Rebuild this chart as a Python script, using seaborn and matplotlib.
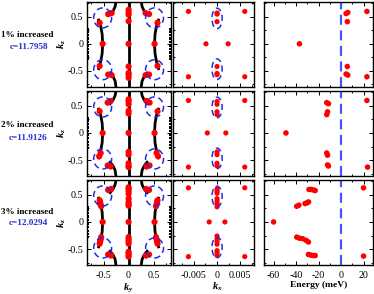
import numpy as np
import pandas as pd
import matplotlib
matplotlib.use("Agg")
import matplotlib.pyplot as plt
from matplotlib.patches import Ellipse
from matplotlib.ticker import MultipleLocator
import seaborn as sns

# ---------------- data ----------------
row_pct = ["1% increased", "2% increased", "3% increased"]
row_c = ["c=11.7958", "c=11.9126", "c=12.0294"]

# column 1: Fermi-surface cuts (ky, kz)
arc_lt_ky = [-0.25, -0.27, -0.31, -0.37]
arc_lt_kz = [0.80, 0.69, 0.61, 0.54]
arc_lm_ky = [-0.60, -0.56, -0.53, -0.52, -0.53, -0.56, -0.60]
arc_lm_kz = [0.44, 0.33, 0.18, 0.00, -0.18, -0.33, -0.46]
arc_lb_ky = [-0.37, -0.31, -0.27, -0.25]
arc_lb_kz = [-0.54, -0.61, -0.69, -0.82]
arc_rt_ky = [0.25, 0.27, 0.31, 0.37]
arc_rt_kz = [0.80, 0.69, 0.61, 0.54]
arc_rm_ky = [0.60, 0.56, 0.53, 0.52, 0.53, 0.56, 0.60]
arc_rm_kz = [0.44, 0.33, 0.18, 0.00, -0.18, -0.33, -0.46]
arc_rb_ky = [0.37, 0.31, 0.27, 0.25]
arc_rb_kz = [-0.54, -0.61, -0.69, -0.82]
arc_c_ky = [0.0, 0.0]
arc_c_kz = [-0.82, 0.80]
edge_ky = [-0.825, 0.825]
edge_kz = [0.28, 0.22, 0.16, 0.10, 0.04, -0.04, -0.10, -0.16, -0.22, -0.28]

# blue dashed circles (centres) in column 1 and column 2
circ1_ky = [-0.52, 0.52, -0.52, 0.52]
circ1_kz = [0.48, 0.48, -0.48, -0.48]
circ2_kx = [0.0, 0.0]
circ2_kz = [0.47, -0.47]

# red points, column 1 (ky, kz)
c1_ky = [
    [0, 0, 0, 0, 0, 0, 0, 0, 0,
     -0.41, -0.34, -0.58, -0.52, -0.58, -0.41, -0.34,
     0.41, 0.34, 0.58, 0.52, 0.58, 0.41, 0.34],
    [0, 0, 0, 0, 0, 0, 0, 0, 0, 0, 0,
     -0.42, -0.36, -0.58, -0.52, -0.56, -0.59, -0.42, -0.36,
     0.42, 0.36, 0.58, 0.52, 0.56, 0.59, 0.42, 0.36],
    [0, 0, 0, 0, 0, 0, 0, 0, 0, 0, 0, 0, 0, 0, 0, 0, 0,
     -0.41, -0.35, -0.58, -0.57, -0.56, -0.55, -0.52, -0.55, -0.56, -0.57, -0.58, -0.41, -0.35,
     0.41, 0.35, 0.58, 0.57, 0.56, 0.55, 0.52, 0.55, 0.56, 0.57, 0.58, 0.41, 0.35],
]
c1_kz = [
    [0.63, 0.58, 0.54, 0.42, 0.0, -0.42, -0.54, -0.58, -0.63,
     0.55, 0.57, 0.39, 0.0, -0.41, -0.57, -0.58,
     0.55, 0.57, 0.39, 0.0, -0.41, -0.57, -0.58],
    [0.62, 0.58, 0.53, 0.41, 0.36, 0.0, -0.35, -0.40, -0.56, -0.61, -0.63,
     0.56, 0.59, 0.40, 0.0, -0.37, -0.43, -0.60, -0.62,
     0.56, 0.59, 0.40, 0.0, -0.37, -0.43, -0.60, -0.62],
    [0.64, 0.61, 0.57, 0.52, 0.43, 0.37, 0.33, 0.30, 0.0,
     -0.28, -0.32, -0.36, -0.40, -0.55, -0.58, -0.61, -0.64,
     0.59, 0.61, 0.40, 0.36, 0.32, 0.29, 0.0, -0.28, -0.32, -0.36, -0.40, -0.60, -0.62,
     0.59, 0.61, 0.40, 0.36, 0.32, 0.29, 0.0, -0.28, -0.32, -0.36, -0.40, -0.60, -0.62],
]

# red points, column 2 (kx, kz)
c2_kx = [
    [0, 0, 0, 0, 0, 0, -0.0024, 0.0024, -0.0062, 0.0060, -0.0062, 0.0060],
    [0, 0, 0, 0, 0, 0, 0, 0, -0.0021, 0.0019, -0.0062, 0.0060, -0.0062, 0.0060],
    [0, 0, 0, 0, 0, 0, 0, 0, 0, 0, 0, 0, 0, 0,
     -0.0017, 0.0017, -0.0062, 0.0060, -0.0062, 0.0060],
]
c2_kz = [
    [0.57, 0.55, 0.41, -0.42, -0.55, -0.57, 0.0, 0.0, 0.60, 0.60, -0.61, -0.61],
    [0.58, 0.53, 0.39, 0.34, -0.35, -0.40, -0.56, -0.61, 0.0, 0.0, 0.60, 0.60, -0.63, -0.63],
    [0.61, 0.57, 0.53, 0.43, 0.38, 0.33, 0.28, -0.26, -0.31, -0.36, -0.41, -0.53, -0.57, -0.62,
     0.0, 0.0, 0.63, 0.63, -0.64, -0.64],
]

# red points, column 3 (Energy in meV, kz)
c3_E = [
    [4.5, 6.0, 5.6, 5.6, 4.5, 6.0, -37.0, 23.0, 23.0],
    [-12.7, -11.2, -12.0, -12.7, -12.7, -12.0, -12.0, -11.2, -49.0, 23.0, 23.6],
    [-28.5, -26.5, -24.5, -23.0, -39.4, -37.5, -32.0, -30.4, -28.9,
     -39.4, -37.0, -34.0, -31.0, -29.0, -29.0, -27.0, -25.0, -23.0, -60.0, 20.0, 20.0],
]
c3_kz = [
    [0.56, 0.58, 0.41, -0.42, -0.56, -0.58, 0.0, 0.60, -0.61],
    [0.56, 0.54, 0.39, 0.34, -0.37, -0.41, -0.59, -0.61, 0.0, 0.60, -0.63],
    [0.60, 0.60, 0.59, 0.58, 0.29, 0.31, 0.34, 0.35, 0.37,
     -0.28, -0.30, -0.31, -0.34, -0.37, -0.60, -0.61, -0.62, -0.62, 0.0, 0.63, -0.63],
]

# ---------------- style ----------------
plt.rcParams["font.family"] = ["Liberation Serif", "DejaVu Serif"]
plt.rcParams["axes.unicode_minus"] = False
plt.rcParams["mathtext.fontset"] = "custom"
plt.rcParams["mathtext.it"] = "Liberation Serif:italic:bold"
plt.rcParams["mathtext.rm"] = "Liberation Serif:bold"
plt.rcParams["mathtext.bf"] = "Liberation Serif:bold"

W, H = 374, 294
fig = plt.figure(figsize=(W / 100, H / 100), dpi=100)

col_px = [(86.7, 171.0), (172.7, 254.0), (264.0, 373.3)]
row_px = [(1.7, 87.0), (90.7, 176.3), (179.7, 265.3)]
xlims = [(-0.84, 0.85), (-0.0096, 0.0080), (-68.5, 28.7)]
ylim = (-0.80, 0.78)

RED = "#ff0000"
BLUE = "#1e2ee6"
VBLUE = "#4455ff"

def frac(x0, x1, y0, y1):
    return [x0 / W, 1 - y1 / H, (x1 - x0) / W, (y1 - y0) / H]

curves = pd.DataFrame({
    "ky": arc_lt_ky + arc_lm_ky + arc_lb_ky + arc_rt_ky + arc_rm_ky + arc_rb_ky + arc_c_ky,
    "kz": arc_lt_kz + arc_lm_kz + arc_lb_kz + arc_rt_kz + arc_rm_kz + arc_rb_kz + arc_c_kz,
    "seg": (["lt"] * len(arc_lt_ky) + ["lm"] * len(arc_lm_ky) + ["lb"] * len(arc_lb_ky)
            + ["rt"] * len(arc_rt_ky) + ["rm"] * len(arc_rm_ky) + ["rb"] * len(arc_rb_ky)
            + ["c"] * len(arc_c_ky)),
})
edges = pd.DataFrame({
    "ky": [edge_ky[0]] * len(edge_kz) + [edge_ky[1]] * len(edge_kz),
    "kz": edge_kz + edge_kz,
})

for r in range(3):
    axes = []
    for c in range(3):
        ax = fig.add_axes(frac(col_px[c][0], col_px[c][1], row_px[r][0], row_px[r][1]))
        axes.append(ax)
        ax.set_xlim(*xlims[c])
        ax.set_ylim(*ylim)

    # column 1
    ax = axes[0]
    sns.lineplot(data=curves, x="ky", y="kz", units="seg", estimator=None, sort=False,
                 color="black", lw=2.0, ax=ax, legend=False)
    sns.scatterplot(data=edges, x="ky", y="kz", marker="s", s=2.5, color="black",
                    edgecolor="none", ax=ax, legend=False)
    d1 = pd.DataFrame({"ky": c1_ky[r], "kz": c1_kz[r]})
    sns.scatterplot(data=d1, x="ky", y="kz", color=RED, s=20, edgecolor="none",
                    ax=ax, legend=False, zorder=3)
    for cx, cy in zip(circ1_ky, circ1_kz):
        ax.add_patch(Ellipse((cx, cy), 0.36, 0.37, fill=False, ec=BLUE, lw=1.1,
                             ls=(0, (4, 2.5)), zorder=4))
    ax.xaxis.set_major_locator(MultipleLocator(0.5))
    ax.xaxis.set_minor_locator(MultipleLocator(0.25))

    # column 2
    ax = axes[1]
    d2 = pd.DataFrame({"kx": c2_kx[r], "kz": c2_kz[r]})
    sns.scatterplot(data=d2, x="kx", y="kz", color=RED, s=14, edgecolor="none",
                    ax=ax, legend=False, zorder=3)
    for cx, cy in zip(circ2_kx, circ2_kz):
        ax.add_patch(Ellipse((cx, cy), 0.0022, 0.38, fill=False, ec=BLUE, lw=1.1,
                             ls=(0, (4, 2.5)), zorder=4))
    ax.xaxis.set_major_locator(MultipleLocator(0.005))
    ax.xaxis.set_minor_locator(MultipleLocator(0.0025))

    # column 3
    ax = axes[2]
    d3 = pd.DataFrame({"E": c3_E[r], "kz": c3_kz[r]})
    ax.axvline(0, color=VBLUE, lw=1.6, ls=(0, (4.5, 2.5)), zorder=2)
    sns.scatterplot(data=d3, x="E", y="kz", color=RED, s=16, edgecolor="none",
                    ax=ax, legend=False, zorder=3)
    ax.xaxis.set_major_locator(MultipleLocator(20))
    ax.xaxis.set_minor_locator(MultipleLocator(10))

    for c, ax in enumerate(axes):
        ax.set_xlabel("")
        ax.set_ylabel("")
        ax.yaxis.set_major_locator(MultipleLocator(0.5))
        ax.yaxis.set_minor_locator(MultipleLocator(0.25))
        ax.tick_params(which="both", direction="in", top=True, right=True,
                       width=0.7, labelsize=7.2, pad=2.5)
        ax.tick_params(which="major", length=2.8)
        ax.tick_params(which="minor", length=1.6)
        for sp in ax.spines.values():
            sp.set_linewidth(1.0)
        if c > 0:
            ax.set_yticklabels([])
        else:
            ax.set_yticks([-0.5, 0, 0.5])
            ax.set_yticklabels(["-0.5", "0", "0.5"])
        if r < 2:
            ax.set_xticklabels([])
        else:
            ax.tick_params(axis="x", pad=4)
    if r == 2:
        axes[0].set_xticks([-0.5, 0, 0.5])
        axes[0].set_xticklabels(["-0.5", "0", "0.5"])
        axes[1].set_xticks([-0.005, 0, 0.005])
        axes[1].set_xticklabels(["-0.005", "0", "0.005"])

# row annotations
pct_y = [35.0, 125.0, 211.7]
c_y = [46.7, 138.3, 222.7]
kz_y = [44.0, 133.0, 223.0]
for r in range(3):
    fig.text(27.0 / W, 1 - pct_y[r] / H, row_pct[r], ha="center", va="center",
             fontsize=6.6, fontweight="bold", color="black")
    fig.text(28.5 / W, 1 - c_y[r] / H, row_c[r], ha="center", va="center",
             fontsize=6.6, fontweight="bold", color="#1f2fd0")
    fig.text(62.0 / W, 1 - kz_y[r] / H, r"$k_z$", ha="center", va="center",
             rotation=90, fontsize=7.5)

fig.text(128.0 / W, 1 - 288.0 / H, r"$k_y$", ha="center", va="center", fontsize=7.5)
fig.text(217.0 / W, 1 - 287.0 / H, r"$k_x$", ha="center", va="center", fontsize=7.5)
fig.text(319.0 / W, 1 - 285.0 / H, "Energy (meV)", ha="center", va="center",
         fontsize=6.8, fontweight="bold")

fig.savefig("out.png", dpi=100)
